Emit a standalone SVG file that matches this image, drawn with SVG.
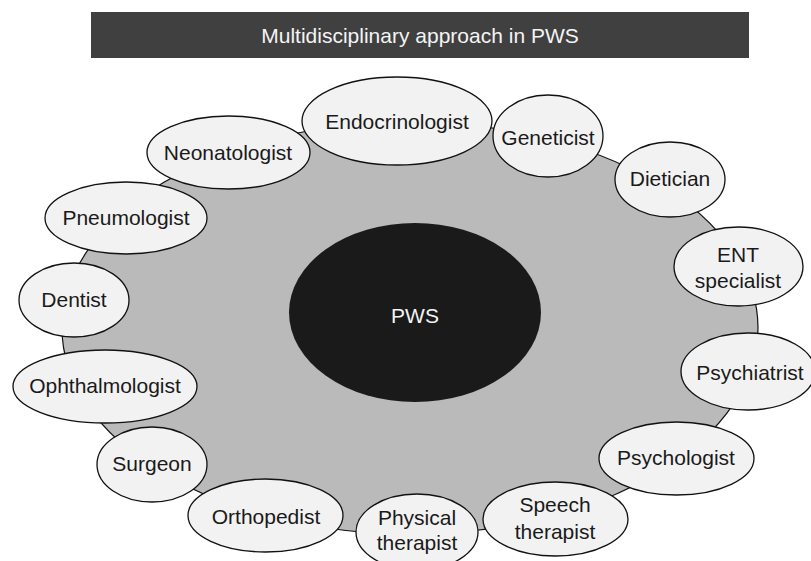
<svg xmlns="http://www.w3.org/2000/svg" width="811" height="561" viewBox="0 0 811 561">
<style>
text { font-family: "Liberation Sans", Arial, sans-serif; font-size: 21px; text-anchor: middle; }
.node ellipse { fill: #f2f2f2; stroke: #111; stroke-width: 1.3; }
.node text { fill: #1a1a1a; }
</style>
<rect width="811" height="561" fill="#ffffff"/>
<g id="title">
  <rect x="91" y="12" width="658" height="46" fill="#404040"/>
  <text x="420" y="43" fill="#f4f4f4">Multidisciplinary approach in PWS</text>
</g>
<g id="ring">
  <ellipse cx="410" cy="328" rx="348" ry="206" fill="#bababa" stroke="#111" stroke-width="1.2"/>
</g>
<g id="pws">
  <ellipse cx="415" cy="312.5" rx="126" ry="89.5" fill="#1a1a1a"/>
  <text x="415" y="323" fill="#f4f4f4">PWS</text>
</g>
<g id="endocrinologist" class="node"><ellipse cx="397" cy="121" rx="95" ry="44"/><text x="397" y="129">Endocrinologist</text></g>
<g id="geneticist" class="node"><ellipse cx="548" cy="136" rx="55" ry="41"/><text x="548" y="145">Geneticist</text></g>
<g id="dietician" class="node"><ellipse cx="670" cy="179.5" rx="55" ry="37.5"/><text x="670" y="186">Dietician</text></g>
<g id="ent" class="node"><ellipse cx="738.5" cy="266.5" rx="64.5" ry="39.5"/><text x="738" y="262">ENT</text><text x="738" y="288">specialist</text></g>
<g id="psychiatrist" class="node"><ellipse cx="748" cy="371.5" rx="67" ry="38.5"/><text x="750" y="380">Psychiatrist</text></g>
<g id="psychologist" class="node"><ellipse cx="676.5" cy="458.5" rx="77.5" ry="36.5"/><text x="676" y="465">Psychologist</text></g>
<g id="speech" class="node"><ellipse cx="555.5" cy="519" rx="72.5" ry="37"/><text x="555" y="512">Speech</text><text x="555" y="539">therapist</text></g>
<g id="physical" class="node"><ellipse cx="417" cy="532" rx="61" ry="38"/><text x="417" y="525">Physical</text><text x="417" y="550">therapist</text></g>
<g id="orthopedist" class="node"><ellipse cx="265.5" cy="515.5" rx="77.5" ry="36.5"/><text x="266" y="524">Orthopedist</text></g>
<g id="surgeon" class="node"><ellipse cx="152" cy="464.5" rx="55" ry="37.5"/><text x="152" y="471">Surgeon</text></g>
<g id="ophthalmologist" class="node"><ellipse cx="105" cy="386.5" rx="92" ry="36.5"/><text x="105" y="393">Ophthalmologist</text></g>
<g id="dentist" class="node"><ellipse cx="74" cy="300" rx="55" ry="37"/><text x="74" y="307">Dentist</text></g>
<g id="pneumologist" class="node"><ellipse cx="126" cy="218" rx="81" ry="36"/><text x="126" y="225">Pneumologist</text></g>
<g id="neonatologist" class="node"><ellipse cx="228.5" cy="152.5" rx="81.5" ry="36.5"/><text x="228" y="160">Neonatologist</text></g>
</svg>
